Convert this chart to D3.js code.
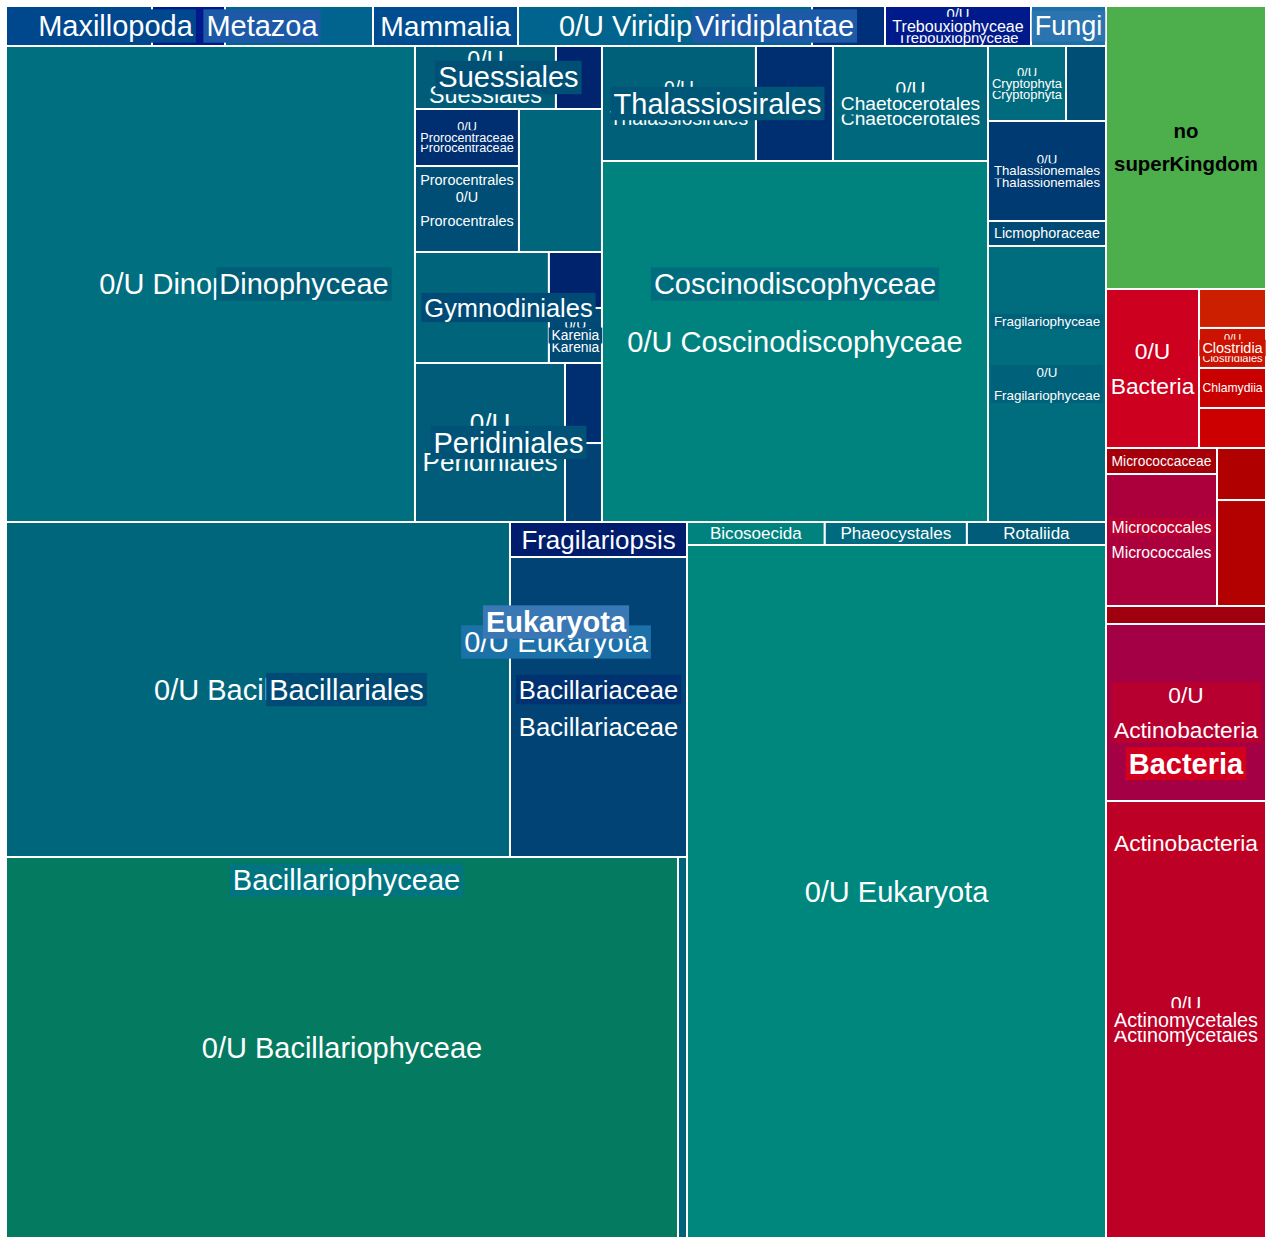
<!DOCTYPE html>
<html>
<head>
<meta charset="utf-8">
<script src="https://cdn.jsdelivr.net/npm/d3@7"></script>
<style>
  body { margin: 0; background: #fff; }
  text { font-family: "Liberation Sans", Arial, sans-serif; }
</style>
</head>
<body>
<script>
// rows: [id, parent, label, reads (hundreds), score]
// label null = layout group only, "" = unnamed taxon
const superkingdoms = [
  ["root", null, null],
  ["Eukaryota", "root", "Eukaryota", 0, 0],
  ["right", "root", null],
  ["noSK", "right", "no superKingdom", 452.8, 0],
  ["Bacteria", "right", "Bacteria", 0, 0.571],
];

const eukKingdoms = [
  ["euk-top", "Eukaryota", null],
  ["Metazoa", "euk-top", "Metazoa", 0, 0.333],
  ["Maxillopoda", "Metazoa", "Maxillopoda", 0, 0.68],
  ["maxillopoda-a", "Maxillopoda", "", 58.4, 0.68],
  ["maxillopoda-b", "Maxillopoda", "", 29.2, 1],
  ["metazoa-u", "Metazoa", "", 59.2, 0.5],
  ["Mammalia", "Metazoa", "Mammalia", 0, 0.64],
  ["mammalia-u", "Mammalia", "", 58, 0.667],
  ["Viridiplantae", "euk-top", "Viridiplantae", 0, 0.333],
  ["viridiplantae-u", "Viridiplantae", "0/U Viridiplantae", 117.6, 0.5],
  ["viridiplantae-x", "Viridiplantae", "", 29.2, 0.833],
  ["Trebouxiophyceae", "Viridiplantae", "Trebouxiophyceae", 0, 1],
  ["trebouxiophyceae-u", "Trebouxiophyceae", "0/U Trebouxiophyceae", 58.4, 1],
  ["Fungi", "euk-top", "Fungi", 0, 0.08],
  ["fungi-u", "Fungi", "", 30, 0.167],
  ["eukaryota-u", "Eukaryota", "0/U Eukaryota", 0, 0.15],
];

const dinophyceae = [
  ["row1", "eukaryota-u", null],
  ["Dinophyceae", "row1", "Dinophyceae", 0, 0.48],
  ["dinophyceae-u", "Dinophyceae", "0/U Dinophyceae", 1946.8, 0.34],
  ["dino-col", "Dinophyceae", null],
  ["Suessiales", "dino-col", "Suessiales", 0, 0.58],
  ["suessiales-u", "Suessiales", "0/U Suessiales", 88.8, 0.5],
  ["suessiales-x", "Suessiales", "", 29.0, 0.9],
  ["proro-row", "dino-col", null],
  ["Prorocentrales", "proro-row", "Prorocentrales", 0, 0.6],
  ["Prorocentraceae", "Prorocentrales", "Prorocentraceae", 0, 0.8],
  ["prorocentraceae-u", "Prorocentraceae", "0/U Prorocentraceae", 59.3, 0.8],
  ["prorocentrales-u", "Prorocentrales", "0/U Prorocentrales", 89.4, 0.6],
  ["proro-x", "proro-row", "", 118.7, 0.42],
  ["Gymnodiniales", "dino-col", "Gymnodiniales", 0, 0.62],
  ["gymnodiniales-u", "Gymnodiniales", "", 148.7, 0.43],
  ["gymno-col", "Gymnodiniales", null],
  ["gymnodiniales-x", "gymno-col", "", 29.7, 0.92],
  ["Karenia", "gymno-col", "Karenia", 0, 0.63],
  ["karenia-u", "Karenia", "0/U Karenia", 29.2, 0.63],
  ["Peridiniales", "dino-col", "Peridiniales", 0, 0.56],
  ["peridiniales-u", "Peridiniales", "0/U Peridiniales", 238.5, 0.5],
  ["peri-col", "Peridiniales", null],
  ["peridiniales-x", "peri-col", "", 29.6, 0.8],
  ["peridiniales-y", "peri-col", "", 29.2, 0.67],
];

const diatoms = [
  ["Coscinodiscophyceae", "row1", "Coscinodiscophyceae", 0, 0.36],
  ["cosc-top", "Coscinodiscophyceae", null],
  ["Thalassiosirales", "cosc-top", "Thalassiosirales", 0, 0.54],
  ["thalassiosirales-u", "Thalassiosirales", "0/U Thalassiosirales", 177.1, 0.47],
  ["thalassiosirales-x", "Thalassiosirales", "", 88.6, 0.8],
  ["Chaetocerotales", "cosc-top", "Chaetocerotales", 0, 0.4],
  ["chaetocerotales-u", "Chaetocerotales", "0/U Chaetocerotales", 178.3, 0.4],
  ["coscinodiscophyceae-u", "Coscinodiscophyceae", "0/U Coscinodiscophyceae", 1393.5, 0.2],
  ["rc", "row1", null],
  ["crypto-row", "rc", null],
  ["Cryptophyta", "crypto-row", "Cryptophyta", 0, 0.38],
  ["cryptophyta-u", "Cryptophyta", "0/U Cryptophyta", 58.5, 0.38],
  ["crypto-x", "crypto-row", "", 30, 0.6],
  ["Fragilariophyceae", "rc", "Fragilariophyceae", 0, 0.46],
  ["Thalassionemales", "Fragilariophyceae", "Thalassionemales", 0, 0.73],
  ["thalassionemales-u", "Thalassionemales", "0/U Thalassionemales", 118, 0.73],
  ["licmophoraceae", "Fragilariophyceae", "Licmophoraceae", 29.5, 0.62],
  ["fragilariophyceae-u", "Fragilariophyceae", "0/U Fragilariophyceae", 0, 0.46],
  ["fragilariophyceae-uu", "fragilariophyceae-u", "", 325.7, 0.36],
  ["row2", "eukaryota-u", null],
  ["Bacillariophyceae", "row2", "Bacillariophyceae", 0, 0.3],
  ["Bacillariales", "Bacillariophyceae", "Bacillariales", 0, 0.62],
  ["bacillariales-u", "Bacillariales", "0/U Bacillariales", 1688.4, 0.42],
  ["Bacillariaceae", "Bacillariales", "Bacillariaceae", 0, 0.78],
  ["fragilariopsis", "Bacillariaceae", "Fragilariopsis", 62, 1],
  ["bacillariaceae-u", "Bacillariaceae", "0/U Bacillariaceae", 531, 0.67],
  ["bacil-bottom", "Bacillariophyceae", null],
  ["bacillariophyceae-u", "bacil-bottom", "0/U Bacillariophyceae", 2560.3, 0],
  ["bacil-thin", "bacil-bottom", "", 34.3, 0.46],
];

const otherEukaryota = [
  ["euk-right", "row2", null],
  ["euk-strip", "euk-right", null],
  ["bicosoecida", "euk-strip", "Bicosoecida", 31.7, 0.2],
  ["phaeocystales", "euk-strip", "Phaeocystales", 32.7, 0.38],
  ["rotaliida", "euk-strip", "Rotaliida", 32, 0.5],
  ["eukaryota-uu", "euk-right", "0/U Eukaryota", 2903.7, 0.16],
];

const bacteria = [
  ["bact-top", "Bacteria", null],
  ["bacteria-u", "bact-top", "0/U Bacteria", 147.9, 0.6],
  ["bact-col", "bact-top", null],
  ["bacteria-x", "bact-col", "", 26.1, 0.02],
  ["Clostridia", "bact-col", "Clostridia", 0, 0.07],
  ["clostridiales-u", "Clostridia", "0/U Clostridiales", 26.8, 0.07],
  ["chlamydiia", "bact-col", "Chlamydiia", 26.8, 0.16],
  ["bacteria-y", "bact-col", "", 26.8, 0.143],
  ["Actinobacteria", "Bacteria", "Actinobacteria", 0, 0.714],
  ["micro-row", "Actinobacteria", null],
  ["Micrococcales", "micro-row", "Micrococcales", 0, 0.86],
  ["micrococcaceae", "Micrococcales", "Micrococcaceae", 28.9, 0.38],
  ["micrococcales-u", "Micrococcales", "0/U Micrococcales", 146.5, 0.93],
  ["micro-col", "micro-row", null],
  ["actino-x", "micro-col", "", 25.5, 0.286],
  ["actino-y", "micro-col", "", 51.9, 0.27],
  ["actino-strip", "Actinobacteria", "", 28.8, 0.43],
  ["actinobacteria-u", "Actinobacteria", "0/U Actinobacteria", 0, 0.857],
  ["actinobacteria-uu", "actinobacteria-u", "", 283.2, 0.98],
  ["Actinomycetales", "Actinobacteria", "Actinomycetales", 0, 0.76],
  ["actinomycetales-u", "Actinomycetales", "0/U Actinomycetales", 699.2, 0.76],
];

const width = 1266;
const height = 1238;
const margin = { top: 6, left: 6 };
const MAXF = 29;
const lineStep = (fs) => 1.35 * fs + 4.5;

const ramps = {
  blue: d3.piecewise(d3.interpolateRgb, ["#3a78b5", "#1a70a8", "#1c5aa8", "#00648e", "#004a90", "#00307a", "#001a8c"]),
  teal: d3.piecewise(d3.interpolateRgb, ["#047a60", "#00887e", "#007080", "#005c78", "#004474", "#002a70", "#001c6c"]),
  red: d3.piecewise(d3.interpolateRgb, ["#cc2400", "#cc0000", "#b00000", "#a0000e", "#d0001e", "#c00022", "#b80030", "#a0004a"]),
  green: () => "#4caf4c",
};

const rows = [...superkingdoms, ...eukKingdoms, ...dinophyceae, ...diatoms, ...otherEukaryota, ...bacteria];
const table = rows.map(([id, parent, label, reads = 0, score = 0]) => ({ id, parent, label, reads, score }));

const root = d3
  .stratify()
  .id((d) => d.id)
  .parentId((d) => d.parent)(table)
  .sum((d) => d.reads);

// cut each box along its longer side
const tile = (node, x0, y0, x1, y1) =>
  (y1 - y0 > x1 - x0 ? d3.treemapSlice : d3.treemapDice)(node, x0, y0, x1, y1);

d3.treemap()
  .size([width - margin.left, height - margin.top])
  .tile(tile)
  .padding(0)(root);

const lineage = (d) => {
  const ids = d.ancestors().map((a) => a.data.id);
  if (ids.includes("Bacteria")) return "red";
  if (ids.includes("noSK")) return "green";
  if (ids.includes("eukaryota-u") && d.data.id !== "eukaryota-u") return "teal";
  return "blue";
};
const color = (d) => ramps[lineage(d)](d.data.score);
const taxDepth = (d) => d.ancestors().filter((a) => a.data.label != null && a !== root).length;

const ctx = document.createElement("canvas").getContext("2d");
const measure = (s, bold) => {
  ctx.font = `${bold ? "bold " : ""}100px "Liberation Sans"`;
  return ctx.measureText(s).width / 100;
};

const layouts = (label) => {
  const w = label.split(" ");
  const out = [[label]];
  if (w.length === 2) out.push(w);
  if (w.length === 3) out.push([w[0], `${w[1]} ${w[2]}`], [`${w[0]} ${w[1]}`, w[2]], w);
  return out;
};

const fit = (d) => {
  const bw = d.x1 - d.x0;
  const bh = d.y1 - d.y0;
  const bold = taxDepth(d) === 1;
  let best = null;
  for (const lines of layouts(d.data.label)) {
    const unit = d3.max(lines, (s) => measure(s, bold));
    const fs = Math.min(MAXF, (bw * 0.9) / unit, bh / (lines.length * 1.35));
    if (!best || fs > best.fs + 0.5) best = { lines, fs, unit, bold };
  }
  return best;
};

const svg = d3.select("body").append("svg").attr("width", width).attr("height", height);
const g = svg.append("g").attr("transform", `translate(${margin.left},${margin.top})`);

g.selectAll("rect.cell")
  .data(root.leaves())
  .join("rect")
  .attr("class", "cell")
  .attr("x", (d) => d.x0)
  .attr("y", (d) => d.y0)
  .attr("width", (d) => d.x1 - d.x0)
  .attr("height", (d) => d.y1 - d.y0)
  .attr("fill", color)
  .attr("stroke", "#fff")
  .attr("stroke-width", 2);

// deeper ranks first, so broader ranks sit on top
const labelled = root
  .descendants()
  .filter((d) => d.data.label)
  .sort((a, b) => taxDepth(b) - taxDepth(a));

g.selectAll("g.label")
  .data(labelled)
  .join("g")
  .attr("class", "label")
  .attr("transform", (d) => `translate(${(d.x0 + d.x1) / 2},${(d.y0 + d.y1) / 2})`)
  .each(function (d) {
    const f = fit(d);
    const sel = d3.select(this);
    const n = f.lines.length;
    const step = lineStep(f.fs);
    if (d.children) {
      const bw = f.unit * f.fs + 6;
      const bh = (n - 1) * step + 1.15 * f.fs;
      sel.append("rect")
        .attr("x", -bw / 2)
        .attr("y", -bh / 2)
        .attr("width", bw)
        .attr("height", bh)
        .attr("fill", color(d));
    }
    const t = sel.append("text")
      .attr("text-anchor", "middle")
      .attr("font-size", f.fs)
      .attr("font-weight", f.bold ? "bold" : null)
      .attr("fill", lineage(d) === "green" ? "#000" : "#fff");
    t.selectAll("tspan")
      .data(f.lines)
      .join("tspan")
      .attr("x", 0)
      .attr("y", (s, i) => (i - (n - 1) / 2) * step)
      .attr("dominant-baseline", "central")
      .text((s) => s);
  });
</script>
</body>
</html>
